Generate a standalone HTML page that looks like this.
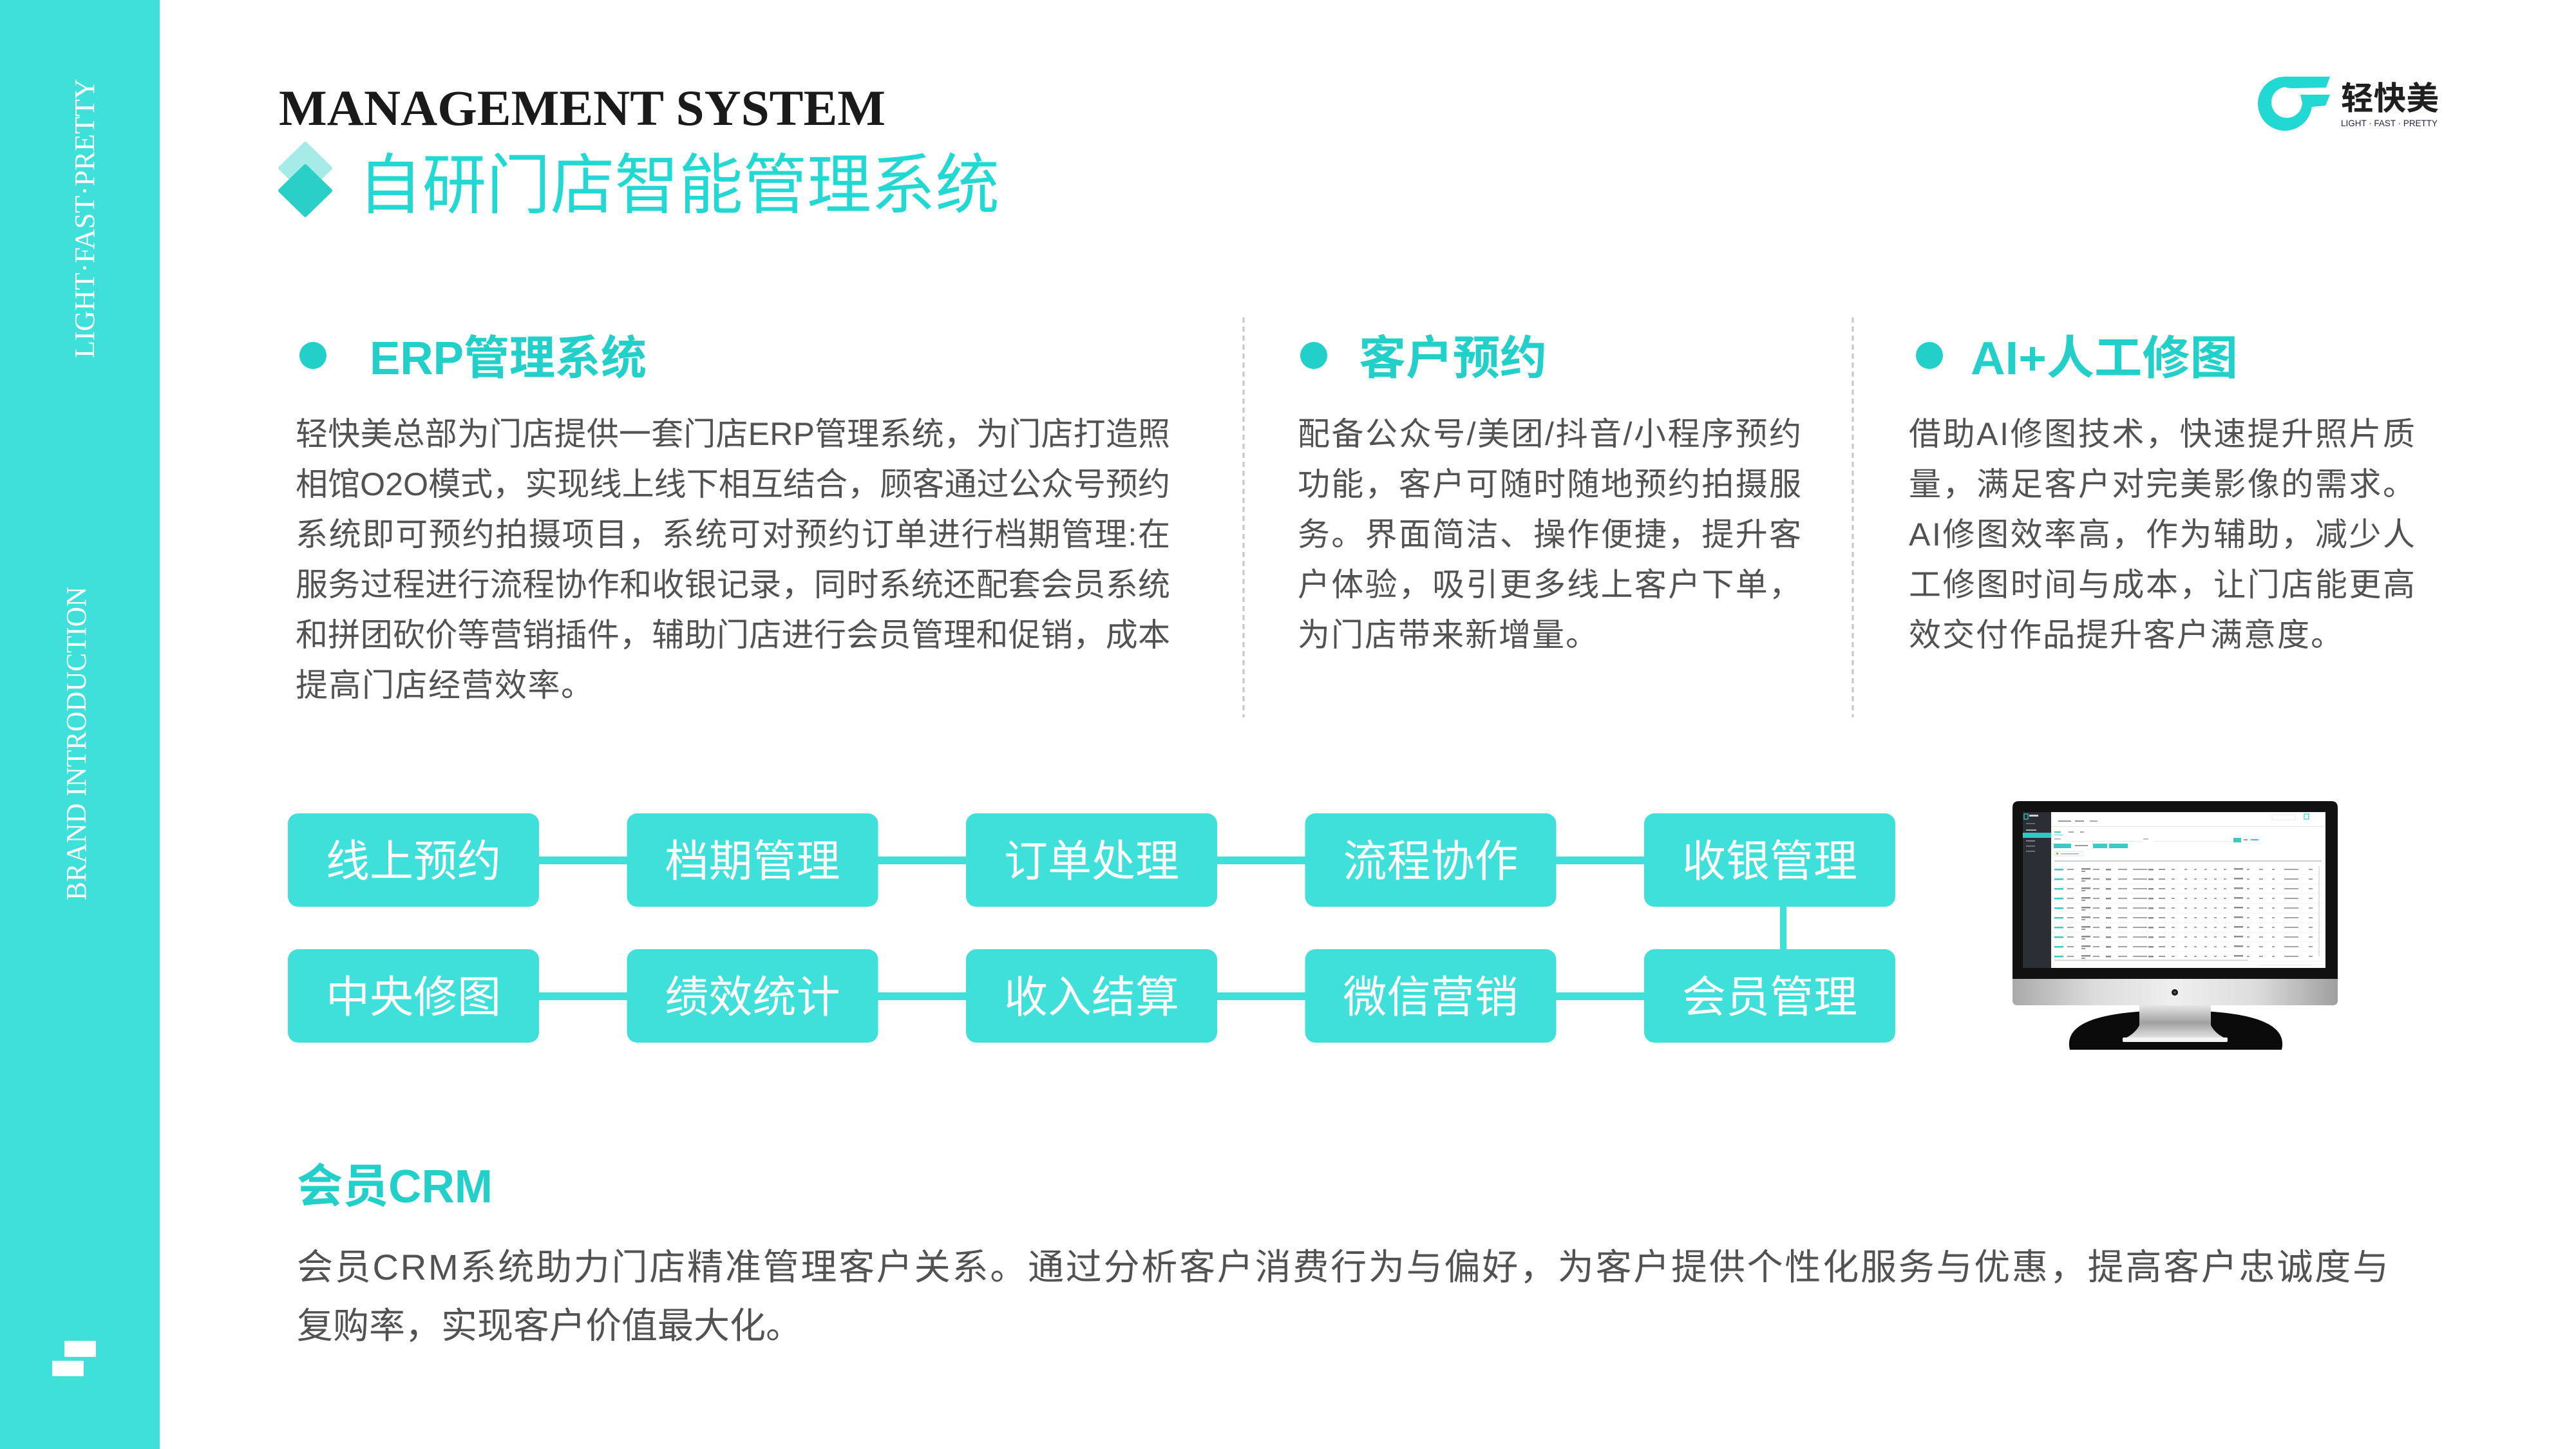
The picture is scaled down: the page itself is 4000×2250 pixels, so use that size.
<!DOCTYPE html>
<html>
<head>
<meta charset="utf-8">
<style>
html,body{margin:0;padding:0;width:4000px;height:2250px;overflow:hidden;background:#ffffff}
svg{display:block}
.cjk{font-family:"Liberation Sans","Noto Sans CJK SC",sans-serif}
.serif{font-family:"Liberation Serif",serif}
.body{font-size:50px;fill:#525252}
.hd{font-size:72px;font-weight:700;fill:#22d0c9}
.box{font-size:68px;fill:#ffffff}
</style>
</head>
<body>
<svg width="4000" height="2250" viewBox="0 0 4000 2250" xmlns="http://www.w3.org/2000/svg">
  <defs>
    <linearGradient id="chin" x1="0" y1="0" x2="1" y2="0">
      <stop offset="0" stop-color="#a9a9a9"/>
      <stop offset="0.25" stop-color="#dcdcdc"/>
      <stop offset="0.5" stop-color="#efefef"/>
      <stop offset="0.75" stop-color="#dcdcdc"/>
      <stop offset="1" stop-color="#9f9f9f"/>
    </linearGradient>
    <linearGradient id="neck" x1="0" y1="0" x2="0" y2="1">
      <stop offset="0" stop-color="#f2f2f2"/>
      <stop offset="0.55" stop-color="#a0a0a0"/>
      <stop offset="1" stop-color="#e8e8e8"/>
    </linearGradient>
    <pattern id="rows" patternUnits="userSpaceOnUse" x="3190" y="1344" width="420" height="15">
      <rect x="0" y="5" width="14" height="2.5" fill="#3fc9c3"/>
      <rect x="20" y="5" width="10" height="2" fill="#a5a5a5"/>
      <rect x="42" y="4" width="14" height="2.5" fill="#8a8a8a"/>
      <rect x="42" y="8" width="6" height="2" fill="#9a9a9a"/>
      <rect x="60" y="5" width="10" height="2" fill="#a5a5a5"/>
      <rect x="80" y="5" width="8" height="2.5" fill="#8a8a8a"/>
      <rect x="99" y="5" width="14" height="2" fill="#a5a5a5"/>
      <rect x="122" y="5" width="22" height="2" fill="#a5a5a5"/>
      <rect x="146" y="5" width="8" height="2.5" fill="#8a8a8a"/>
      <rect x="162" y="5" width="10" height="2" fill="#9a9a9a"/>
      <rect x="182" y="5" width="5" height="2" fill="#a5a5a5"/>
      <rect x="202" y="5" width="4" height="2" fill="#a5a5a5"/>
      <rect x="217" y="5" width="4" height="2" fill="#a5a5a5"/>
      <rect x="233" y="5" width="4" height="2" fill="#a5a5a5"/>
      <rect x="248" y="5" width="4" height="2" fill="#a5a5a5"/>
      <rect x="263" y="5" width="4" height="2" fill="#a5a5a5"/>
      <rect x="279" y="4" width="14" height="2.5" fill="#8a8a8a"/>
      <rect x="299" y="5" width="4" height="2" fill="#a5a5a5"/>
      <rect x="318" y="5" width="6" height="2" fill="#a5a5a5"/>
      <rect x="338" y="5" width="4" height="2" fill="#a5a5a5"/>
      <rect x="357" y="5" width="22" height="2" fill="#a5a5a5"/>
      <rect x="395" y="5" width="6" height="2" fill="#a5a5a5"/>
      <rect x="0" y="13.5" width="420" height="0.7" fill="#ececec"/>
    </pattern>
  </defs>

  <!-- Sidebar -->
  <rect x="0" y="0" width="248" height="2250" fill="#40e0da"/>
  <text class="serif" transform="translate(146,556) rotate(-90)" font-size="44" fill="#ffffff" textLength="434" lengthAdjust="spacingAndGlyphs">LIGHT·FAST·PRETTY</text>
  <text class="serif" transform="translate(133,1398) rotate(-90)" font-size="44" fill="#ffffff" textLength="487" lengthAdjust="spacingAndGlyphs">BRAND INTRODUCTION</text>
  <rect x="100" y="2082" width="49" height="25" fill="#ffffff"/>
  <rect x="81" y="2113" width="49" height="24" fill="#ffffff"/>

  <!-- Title -->
  <text class="serif" x="433" y="194" font-size="78" font-weight="700" fill="#1a1a1a" textLength="942" lengthAdjust="spacingAndGlyphs">MANAGEMENT SYSTEM</text>
  <path d="M474 223 L513 261 L474 299 L435 261 Z" fill="#a6ebe7" stroke="#a6ebe7" stroke-width="6" stroke-linejoin="round"/>
  <path d="M474 258 L513 296 L474 334 L435 296 Z" fill="#2acfc8" stroke="#2acfc8" stroke-width="6" stroke-linejoin="round"/>
  <text class="cjk" x="556" y="323" font-size="102" fill="#22d8d2" textLength="996" lengthAdjust="spacingAndGlyphs">自研门店智能管理系统</text>

  <!-- Logo -->
  <path fill-rule="evenodd" fill="#22d8d2" d="M3548 119 A42 42 0 1 0 3590 161 L3590 158 L3575 158 A24 24 0 1 1 3551 135 Z"/>
  <path fill="#22d8d2" d="M3548 119 L3618 119 L3612 136 L3560 137 Q3552 137 3548 135 Z"/>
  <path fill="#22d8d2" d="M3572 147 L3618 147 L3611 164 L3590 166 L3578 172 Z"/>
  <text class="cjk" x="3635" y="170" font-size="50" font-weight="700" fill="#1f1f1f" textLength="152" lengthAdjust="spacingAndGlyphs">轻快美</text>
  <text x="3635" y="196" font-family="Liberation Sans, sans-serif" font-size="14" fill="#23234a" textLength="150" lengthAdjust="spacingAndGlyphs">LIGHT · FAST · PRETTY</text>

  <!-- Section headers -->
  <circle cx="486" cy="552" r="21" fill="#22d0c9"/>
  <text class="cjk hd" x="574" y="581" textLength="430" lengthAdjust="spacingAndGlyphs">ERP管理系统</text>
  <circle cx="2040" cy="552" r="21" fill="#22d0c9"/>
  <text class="cjk hd" x="2110" y="581" textLength="292" lengthAdjust="spacingAndGlyphs">客户预约</text>
  <circle cx="2996" cy="552" r="21" fill="#22d0c9"/>
  <text class="cjk hd" x="3060" y="581" textLength="415" lengthAdjust="spacingAndGlyphs">AI+人工修图</text>

  <!-- Dashed dividers -->
  <line x1="1931" y1="493" x2="1931" y2="1114" stroke="#c6c6c6" stroke-width="3" stroke-dasharray="8 6"/>
  <line x1="2877" y1="493" x2="2877" y2="1114" stroke="#c6c6c6" stroke-width="3" stroke-dasharray="8 6"/>

  <!-- ERP body -->
  <g class="cjk body">
    <text x="459" y="691" textLength="1358" lengthAdjust="spacing">轻快美总部为门店提供一套门店ERP管理系统，为门店打造照</text>
    <text x="459" y="769" textLength="1358" lengthAdjust="spacing">相馆O2O模式，实现线上线下相互结合，顾客通过公众号预约</text>
    <text x="459" y="847" textLength="1358" lengthAdjust="spacing">系统即可预约拍摄项目，系统可对预约订单进行档期管理:在</text>
    <text x="459" y="925" textLength="1358" lengthAdjust="spacing">服务过程进行流程协作和收银记录，同时系统还配套会员系统</text>
    <text x="459" y="1003" textLength="1358" lengthAdjust="spacing">和拼团砍价等营销插件，辅助门店进行会员管理和促销，成本</text>
    <text x="459" y="1081" letter-spacing="1.5">提高门店经营效率。</text>
  </g>

  <!-- Col2 body -->
  <g class="cjk body">
    <text x="2015" y="691" textLength="782" lengthAdjust="spacing">配备公众号/美团/抖音/小程序预约</text>
    <text x="2015" y="769" textLength="782" lengthAdjust="spacing">功能，客户可随时随地预约拍摄服</text>
    <text x="2015" y="847" textLength="782" lengthAdjust="spacing">务。界面简洁、操作便捷，提升客</text>
    <text x="2015" y="925" textLength="782" lengthAdjust="spacing">户体验，吸引更多线上客户下单，</text>
    <text x="2015" y="1003" letter-spacing="2">为门店带来新增量。</text>
  </g>

  <!-- Col3 body -->
  <g class="cjk body">
    <text x="2964" y="691" textLength="786" lengthAdjust="spacing">借助AI修图技术，快速提升照片质</text>
    <text x="2964" y="769" textLength="786" lengthAdjust="spacing">量，满足客户对完美影像的需求。</text>
    <text x="2964" y="847" textLength="786" lengthAdjust="spacing">AI修图效率高，作为辅助，减少人</text>
    <text x="2964" y="925" textLength="786" lengthAdjust="spacing">工修图时间与成本，让门店能更高</text>
    <text x="2964" y="1003" letter-spacing="2">效交付作品提升客户满意度。</text>
  </g>

  <!-- Flow boxes connectors -->
  <rect x="640" y="1330" width="2110" height="12" fill="#40e0da"/>
  <rect x="640" y="1541" width="2110" height="12" fill="#40e0da"/>
  <rect x="2764" y="1400" width="10" height="80" fill="#40e0da"/>

  <!-- Boxes -->
  <g fill="#40e0da">
    <rect x="447" y="1263" width="390" height="145" rx="16"/>
    <rect x="973.5" y="1263" width="390" height="145" rx="16"/>
    <rect x="1500" y="1263" width="390" height="145" rx="16"/>
    <rect x="2026.5" y="1263" width="390" height="145" rx="16"/>
    <rect x="2553" y="1263" width="390" height="145" rx="16"/>
    <rect x="447" y="1474" width="390" height="145" rx="16"/>
    <rect x="973.5" y="1474" width="390" height="145" rx="16"/>
    <rect x="1500" y="1474" width="390" height="145" rx="16"/>
    <rect x="2026.5" y="1474" width="390" height="145" rx="16"/>
    <rect x="2553" y="1474" width="390" height="145" rx="16"/>
  </g>
  <g class="cjk box" text-anchor="middle">
    <text x="642" y="1361">线上预约</text>
    <text x="1168.5" y="1361">档期管理</text>
    <text x="1695" y="1361">订单处理</text>
    <text x="2221.5" y="1361">流程协作</text>
    <text x="2748" y="1361">收银管理</text>
    <text x="642" y="1572">中央修图</text>
    <text x="1168.5" y="1572">绩效统计</text>
    <text x="1695" y="1572">收入结算</text>
    <text x="2221.5" y="1572">微信营销</text>
    <text x="2748" y="1572">会员管理</text>
  </g>

  <!-- Monitor -->
  <path d="M3214 1630 C3205 1592 3250 1569 3378 1569 C3506 1569 3552 1592 3543 1630 Z" fill="#0b0b0b"/>
  <path d="M3322 1556 L3433 1556 L3433 1592 Q3440 1606 3459 1614 L3296 1614 Q3315 1606 3322 1592 Z" fill="url(#neck)"/>
  <rect x="3296" y="1611" width="163" height="7" rx="2" fill="#f4f4f4"/>
  <path d="M3135 1244 L3620 1244 Q3630 1244 3630 1254 L3630 1520 L3125 1520 L3125 1254 Q3125 1244 3135 1244 Z" fill="#111111"/>
  <path d="M3125 1520 L3630 1520 L3630 1553 Q3630 1561 3622 1561 L3133 1561 Q3125 1561 3125 1553 Z" fill="url(#chin)"/>
  <circle cx="3377" cy="1541" r="5" fill="#1a1a1a"/>
  <circle cx="3377" cy="1541" r="2" fill="#555555"/>

  <!-- Screen -->
  <rect x="3141" y="1261" width="470" height="242" fill="#ffffff"/>
  <rect x="3141" y="1261" width="44" height="242" fill="#2c2e35"/>
  <rect x="3143" y="1264" width="6" height="8" fill="none" stroke="#3fc9c3" stroke-width="1.2"/>
  <rect x="3151" y="1265" width="14" height="3" fill="#cfcfcf"/>
  <rect x="3146" y="1278" width="14" height="1.5" fill="#777"/>
  <rect x="3146" y="1288" width="16" height="2" fill="#aaa"/>
  <rect x="3141" y="1293" width="44" height="8" fill="#2fc9c3"/>
  <rect x="3146" y="1305" width="14" height="1.5" fill="#999"/>
  <rect x="3146" y="1313" width="14" height="1.5" fill="#888"/>
  <rect x="3146" y="1321" width="14" height="1.5" fill="#888"/>
  <rect x="3185" y="1283" width="426" height="1" fill="#e6e6e6"/>
  <rect x="3196" y="1274" width="20" height="2" fill="#999"/>
  <rect x="3222" y="1274" width="14" height="2" fill="#999"/>
  <rect x="3245" y="1274" width="12" height="2" fill="#aaa"/>
  <rect x="3528" y="1265" width="36" height="8" fill="none" stroke="#e3e3e3" stroke-width="0.8"/>
  <rect x="3578" y="1264" width="7" height="8" fill="none" stroke="#3fc9c3" stroke-width="1.2"/>
  <rect x="3190" y="1291" width="10" height="2" fill="#3fc9c3"/>
  <rect x="3190" y="1296" width="14" height="0.8" fill="#3fc9c3"/>
  <rect x="3212" y="1291" width="8" height="2" fill="#aaa"/>
  <rect x="3230" y="1291" width="6" height="2" fill="#aaa"/>
  <rect x="3190" y="1302" width="10" height="1.5" fill="#aaa"/>
  <rect x="3205" y="1306" width="120" height="0.8" fill="#e4e4e4"/>
  <rect x="3328" y="1302" width="8" height="1.5" fill="#aaa"/>
  <rect x="3345" y="1306" width="118" height="0.8" fill="#e4e4e4"/>
  <rect x="3468" y="1301" width="12" height="7" fill="#3fc9c3"/>
  <rect x="3484" y="1303" width="6" height="2" fill="#999"/>
  <rect x="3495" y="1303" width="12" height="2" fill="#3fc9c3"/>
  <rect x="3189" y="1310" width="27" height="7" fill="#3fc9c3"/>
  <rect x="3222" y="1312" width="20" height="2" fill="#999"/>
  <rect x="3250" y="1310" width="22" height="7" fill="#3fc9c3"/>
  <rect x="3275" y="1310" width="29" height="7" fill="#3fc9c3"/>
  <rect x="3190" y="1322" width="44" height="7" fill="none" stroke="#bfe9e6" stroke-width="0.8"/>
  <rect x="3193" y="1324" width="3" height="3" fill="#f08a3a"/>
  <rect x="3200" y="1325" width="28" height="1.5" fill="#aaa"/>
  <rect x="3190" y="1336" width="415" height="2" fill="#cfcfcf"/>
  <rect x="3190" y="1344" width="418" height="150" fill="url(#rows)"/>
  <rect x="3600" y="1345" width="2" height="140" fill="#e2e2e2"/>
  <rect x="3190" y="1490" width="300" height="2" fill="#d8d8d8"/>
  <rect x="3510" y="1498" width="80" height="1" fill="#e8e8e8"/>

  <!-- Member CRM -->
  <text class="cjk hd" x="461" y="1867" textLength="304" lengthAdjust="spacingAndGlyphs">会员CRM</text>
  <g class="cjk" font-size="56" fill="#525252">
    <text x="461" y="1987" textLength="3248" lengthAdjust="spacing">会员CRM系统助力门店精准管理客户关系。通过分析客户消费行为与偏好，为客户提供个性化服务与优惠，提高客户忠诚度与</text>
    <text x="461" y="2078">复购率，实现客户价值最大化。</text>
  </g>
</svg>
</body>
</html>
